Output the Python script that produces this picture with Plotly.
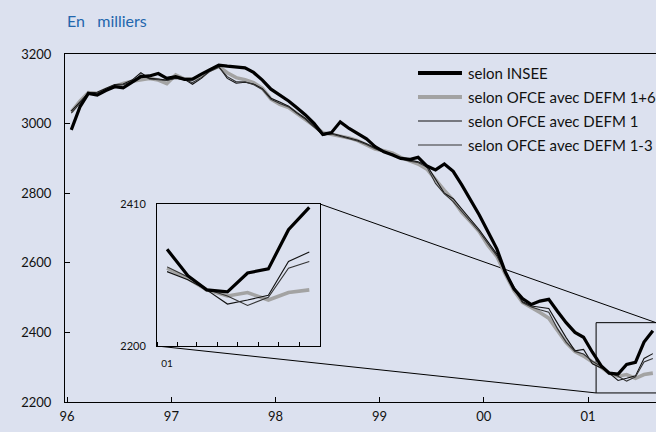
import pandas as pd
import plotly.graph_objects as go

# ---------------- data (thousands, monthly Jan 1996 - Aug 2001) ----------------
months = pd.date_range("1996-01-01", periods=68, freq="MS") + pd.Timedelta(days=15)

insee = [2982, 3049, 3087, 3082, 3095, 3106, 3103, 3120, 3135, 3137, 3144, 3130,
         3135, 3127, 3128, 3142, 3156, 3168, 3165, 3163, 3160, 3147, 3125, 3099,
         3082, 3065, 3046, 3025, 3001, 2969, 2974, 3005, 2986, 2972, 2956, 2934,
         2919, 2910, 2900, 2897, 2903, 2878, 2867, 2884, 2863, 2824, 2782, 2738,
         2689, 2640, 2575, 2525, 2497, 2480, 2490, 2495, 2460, 2428, 2400, 2386,
         2343, 2304, 2283, 2280, 2308, 2314, 2372, 2405]

ofce_defm_16 = [3034, 3065, 3089, 3087, 3098, 3108, 3115, 3122, 3127, 3130, 3125, 3115,
                3140, 3128, 3128, 3135, 3154, 3164, 3146, 3132, 3126, 3118, 3101, 3070,
                3055, 3046, 3030, 3013, 2994, 2974, 2969, 2965, 2959, 2951, 2940, 2927,
                2922, 2915, 2903, 2893, 2884, 2869, 2838, 2808, 2780, 2745, 2718, 2690,
                2650, 2618, 2569, 2520, 2486, 2472, 2457, 2441, 2405, 2371, 2345, 2332,
                2315, 2300, 2283, 2274, 2279, 2268, 2279, 2283]

ofce_defm_1 = [3036, 3062, 3088, 3090, 3100, 3112, 3114, 3125, 3146, 3130, 3128, 3125,
               3130, 3127, 3113, 3130, 3152, 3164, 3130, 3116, 3119, 3114, 3100, 3073,
               3062, 3050, 3032, 3015, 2992, 2966, 2972, 2966, 2960, 2952, 2942, 2930,
               2920, 2912, 2900, 2894, 2890, 2880, 2842, 2800, 2784, 2755, 2725, 2695,
               2660, 2625, 2575, 2530, 2488, 2476, 2472, 2469, 2426, 2385, 2347, 2351,
               2310, 2298, 2283, 2262, 2268, 2275, 2325, 2339]

ofce_defm_13 = [3030, 3060, 3086, 3088, 3097, 3110, 3112, 3120, 3140, 3128, 3126, 3124,
                3132, 3126, 3118, 3132, 3150, 3162, 3135, 3120, 3120, 3112, 3098, 3070,
                3058, 3048, 3030, 3012, 2990, 2968, 2970, 2964, 2958, 2950, 2940, 2928,
                2918, 2910, 2900, 2892, 2888, 2875, 2828, 2798, 2776, 2748, 2720, 2690,
                2654, 2620, 2572, 2525, 2486, 2473, 2465, 2458, 2410, 2372, 2345, 2338,
                2317, 2302, 2284, 2274, 2260, 2272, 2315, 2325]

year_ticks = ["1996-01-01", "1997-01-01", "1998-01-01", "1999-01-01", "2000-01-01", "2001-01-01"]
year_labels = ["96", "97", "98", "99", "00", "01"]
y_ticks = [2200, 2400, 2600, 2800, 3000, 3200]

series_names = ["selon INSEE", "selon OFCE avec DEFM 1+6",
                "selon OFCE avec DEFM 1", "selon OFCE avec DEFM 1-3"]

inset_start = 60  # Jan 2001

# ---------------- styles ----------------
BG = "#dce1ef"
FONT = "Lato"
styles = {
    "selon INSEE": dict(color="#000000", width=3.2),
    "selon OFCE avec DEFM 1+6": dict(color="#a3a3a3", width=3.6),
    "selon OFCE avec DEFM 1": dict(color="#111111", width=1.1),
    "selon OFCE avec DEFM 1-3": dict(color="#333333", width=1.1),
}
legend_widths = {"selon INSEE": 3.8, "selon OFCE avec DEFM 1+6": 3.8,
                 "selon OFCE avec DEFM 1": 1.2, "selon OFCE avec DEFM 1-3": 1.2}
values = {
    "selon INSEE": insee,
    "selon OFCE avec DEFM 1+6": ofce_defm_16,
    "selon OFCE avec DEFM 1": ofce_defm_1,
    "selon OFCE avec DEFM 1-3": ofce_defm_13,
}
draw_order = ["selon OFCE avec DEFM 1+6", "selon OFCE avec DEFM 1",
              "selon OFCE avec DEFM 1-3", "selon INSEE"]

fig = go.Figure()
for name in draw_order:
    fig.add_trace(go.Scatter(x=months, y=values[name], mode="lines", name=name,
                             line=styles[name], showlegend=False,
                             xaxis="x", yaxis="y"))
for name in draw_order:
    fig.add_trace(go.Scatter(x=months[inset_start:], y=values[name][inset_start:],
                             mode="lines", name=name, line=styles[name],
                             showlegend=False, xaxis="x2", yaxis="y2"))

# main axes range
xr0 = pd.Timestamp("1995-12-25")
xr1 = pd.Timestamp("2001-08-27")
yr0, yr1 = 2200, 3200

# inset domain (paper fractions of the plot area)
ix = [0.1557, 0.4315]
iy = [0.1609, 0.569]

def px_x(f):
    return (xr0 + (xr1 - xr0) * f).strftime("%Y-%m-%d %H:%M")

def px_y(f):
    return yr0 + (yr1 - yr0) * f

# zoomed region box on main chart
box_x0, box_x1 = "2001-01-29", "2001-10-15"
box_y0, box_y1 = 2226, 2428

shapes = [
    dict(type="rect", xref="x", yref="y", x0=box_x0, x1=box_x1, y0=box_y0, y1=box_y1,
         line=dict(color="black", width=1), layer="below"),
    dict(type="line", xref="x", yref="y", x0=px_x(ix[0]), y0=px_y(iy[0]),
         x1=box_x0, y1=box_y0, line=dict(color="black", width=1), layer="below"),
    dict(type="line", xref="x", yref="y", x0=px_x(ix[1]), y0=px_y(iy[1]),
         x1=xr1.strftime("%Y-%m-%d"), y1=box_y1, line=dict(color="black", width=1), layer="below"),
]

# manual legend
annotations = []
leg_x0, leg_x1, leg_tx = 0.5973, 0.6717, 0.6785
leg_rows = [0.9454, 0.8764, 0.8075, 0.7385]
for name, yy in zip(series_names, leg_rows):
    shapes.append(dict(type="line", xref="paper", yref="paper", x0=leg_x0, x1=leg_x1,
                       y0=yy, y1=yy, line=dict(color=styles[name]["color"],
                                               width=legend_widths[name])))
    annotations.append(dict(xref="paper", yref="paper", x=leg_tx, y=yy, text=name,
                            showarrow=False, xanchor="left", yanchor="middle",
                            font=dict(family=FONT, size=15, color="#111111")))

annotations.append(dict(xref="paper", yref="paper", x=0.0, y=1.0, yshift=34,
                        text="En\u00a0\u00a0\u00a0milliers", showarrow=False,
                        xanchor="left", yanchor="middle",
                        font=dict(family=FONT, size=16, color="#2366ad")))

fig.update_layout(
    width=656, height=432,
    margin=dict(l=65, r=0, t=54, b=30),
    paper_bgcolor=BG, plot_bgcolor=BG,
    font=dict(family=FONT, size=13, color="#111111"),
    shapes=shapes, annotations=annotations,
    xaxis=dict(type="date", range=[xr0.strftime("%Y-%m-%d"), xr1.strftime("%Y-%m-%d")],
               tickvals=year_ticks, ticktext=year_labels, ticks="inside", ticklen=5,
               tickcolor="black", showline=True, linecolor="black", linewidth=1,
               mirror=True, showgrid=False, zeroline=False, ticklabelstandoff=2,
               tickfont=dict(size=13, color="#111111")),
    yaxis=dict(range=[yr0, yr1], tickvals=y_ticks, ticks="inside", ticklen=5,
               tickcolor="black", showline=True, linecolor="black", linewidth=1,
               showgrid=False, zeroline=False, ticklabelstandoff=10,
               tickfont=dict(size=13, color="#111111")),
    xaxis2=dict(type="date", domain=ix, anchor="y2",
                range=["2001-01-01", "2001-09-01"],
                tickvals=["2001-01-16"], ticktext=["01"], ticks="",
                minor=dict(ticks="inside", ticklen=4, dtick="M1", tick0="2001-01-01",
                           tickcolor="black", showgrid=False),
                showline=True, linecolor="black", linewidth=1, mirror=True,
                showgrid=False, zeroline=False, ticklabelstandoff=8,
                tickfont=dict(size=10)),
    yaxis2=dict(domain=iy, anchor="x2", range=[2200, 2410], tickvals=[2200, 2410],
                ticks="", showline=True, linecolor="black", linewidth=1, mirror=True,
                showgrid=False, zeroline=False, ticklabelstandoff=8,
                tickfont=dict(size=11)),
)

fig.write_html("out.html", config={"displayModeBar": False},
               post_script="document.body.style.margin='0px';document.body.style.overflow='hidden';")
